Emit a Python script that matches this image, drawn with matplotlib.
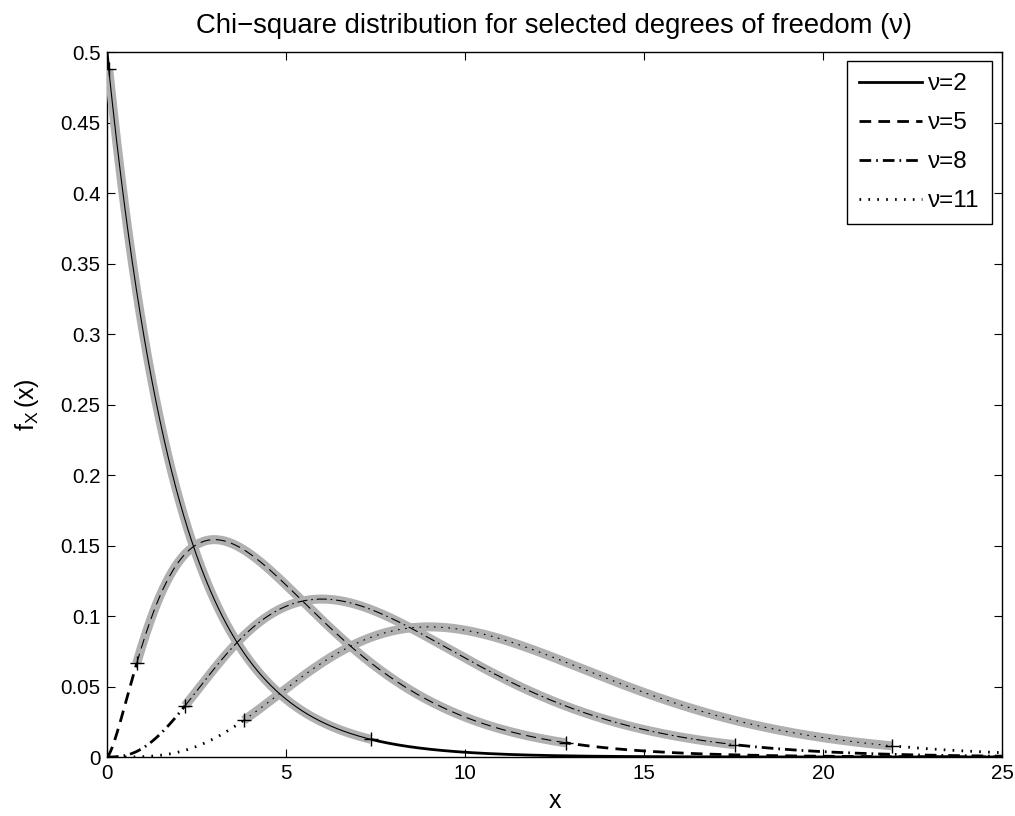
import math
import numpy as np
import matplotlib
matplotlib.use("Agg")
import matplotlib.pyplot as plt

# Degrees of freedom shown
nu_values = [2, 5, 8, 11]
legend_labels = ["ν=2", "ν=5", "ν=8", "ν=11"]
# Highlighted (grey) interval bounds (+ markers)
band_lo = [0.05, 0.83, 2.18, 3.82]
band_hi = [7.38, 12.83, 17.53, 21.92]
x_ticks = [0, 5, 10, 15, 20, 25]
y_ticks = [0, 0.05, 0.1, 0.15, 0.2, 0.25, 0.3, 0.35, 0.4, 0.45, 0.5]
y_tick_labels = ['0', '0.05', '0.1', '0.15', '0.2', '0.25', '0.3', '0.35', '0.4', '0.45', '0.5']

plt.rcParams['font.family'] = ['Liberation Sans', 'DejaVu Sans']
plt.rcParams['mathtext.fontset'] = 'custom'
plt.rcParams['mathtext.rm'] = 'Liberation Sans'
plt.rcParams['mathtext.it'] = 'Liberation Sans'


def chi2_pdf(x, k):
    x = np.asarray(x, dtype=float)
    out = np.zeros_like(x)
    pos = x > 0
    out[pos] = x[pos] ** (k / 2 - 1) * np.exp(-x[pos] / 2) / (2 ** (k / 2) * math.gamma(k / 2))
    if k == 2:
        out[~pos] = 0.5
    return out


styles = [
    dict(linestyle='-'),
    dict(linestyle=(0, (4.2, 2.6))),
    dict(linestyle=(0, (4.2, 1.8, 0.6, 1.8))),
    dict(linestyle=(0, (0.6, 2.6))),
]
thin_styles = [
    dict(linestyle='-'),
    dict(linestyle=(0, (9, 5))),
    dict(linestyle=(0, (9, 3.5, 1.5, 3.5))),
    dict(linestyle=(0, (1.5, 5))),
]

fig = plt.figure(figsize=(10.15, 8.16), dpi=100)
ax = fig.add_axes([0.1054, 0.0723, 0.8818, 0.8639])

xs = np.linspace(0, 25, 2000)
handles = []
for k, lab, st, tst, lo, hi in zip(nu_values, legend_labels, styles, thin_styles, band_lo, band_hi):
    y = chi2_pdf(xs, k)
    h, = ax.plot(xs, y, color='black', linewidth=2.0, label=lab, zorder=2, **st)
    handles.append(h)
    xb = np.linspace(lo, hi, 800)
    yb = chi2_pdf(xb, k)
    ax.plot(xb, yb, color='#b0b0b0', linewidth=6.5, solid_capstyle='butt', zorder=3)
    ax.plot(xb, yb, color='black', linewidth=0.8, zorder=4, **tst)
    ax.plot([lo, hi], chi2_pdf([lo, hi], k), linestyle='none', marker='+',
            markersize=10, markeredgewidth=1.0, color='black', zorder=5)

ax.set_xlim(0, 25)
ax.set_ylim(0, 0.5)
ax.set_xticks(x_ticks)
ax.set_xticklabels([str(v) for v in x_ticks])
ax.set_yticks(y_ticks)
ax.set_yticklabels(y_tick_labels)
ax.tick_params(direction='in', top=True, right=True, length=6, width=0.8, labelsize=14.8)
ax.tick_params(axis='x', pad=5)
ax.tick_params(axis='y', pad=4.5)
for s in ax.spines.values():
    s.set_linewidth(1.0)

ax.set_title('Chi\u2212square distribution for selected degrees of freedom (ν)', fontsize=19.8, pad=14)
ax.set_xlabel('x', fontsize=18, labelpad=4)
ax.set_ylabel(r'$\mathregular{f_X\,(x)}$', fontsize=18, labelpad=14)

leg = ax.legend(handles=handles, loc='upper right', fontsize=17.5, frameon=True, fancybox=False,
                edgecolor='black', framealpha=1, handlelength=2.6, handletextpad=0.25,
                borderaxespad=0, bbox_to_anchor=(1 - 10 / 895, 1 - 9 / 705),
                labelspacing=0.7, borderpad=0.5)
leg.get_frame().set_linewidth(1.0)

fig.savefig('out.png', dpi=100)
